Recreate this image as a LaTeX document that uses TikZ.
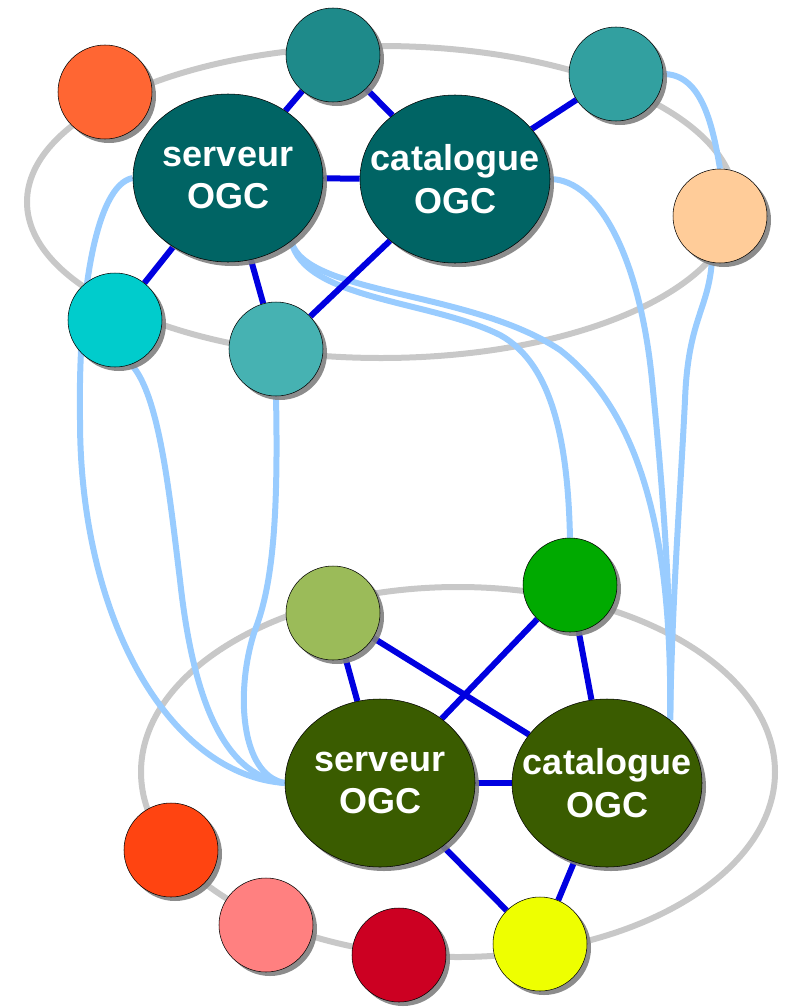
\documentclass[tikz,border=0pt]{standalone}
\usepackage{fontspec}
\setmainfont{Liberation Sans}
\usepackage{tikz}
\usetikzlibrary{shapes.geometric}
\usetikzlibrary{shadows}
\usetikzlibrary{backgrounds}
\definecolor{ogcteal}{HTML}{006464}
\definecolor{ogcolive}{HTML}{3A5C00}
\definecolor{lienbleu}{HTML}{0000E0}
\definecolor{relaisbleu}{HTML}{99CCFF}
\definecolor{anneaugris}{HTML}{C8C8C8}
\tikzset{bulle/.style = {circle, draw=black, thin, minimum size=70.5pt, inner sep=0,
                         drop shadow={shadow xshift=3pt, shadow yshift=-3pt, fill=gray, opacity=.9}}}
\tikzset{ogc/.style = {ellipse, draw=black, thin, minimum width=142.5pt, minimum height=126pt,
                       inner sep=0,
                       drop shadow={shadow xshift=3pt, shadow yshift=-3pt, fill=gray, opacity=.9}}}
\tikzset{ogctexte/.style = {align=center, text=white, inner sep=0,
                            font=\bfseries\fontsize{27}{32}\selectfont}}
\tikzset{lien/.style = {draw=lienbleu, line width=4.5pt}}
\tikzset{relais/.style = {draw=relaisbleu, line width=4.5pt}}
\tikzset{anneau/.style = {draw=anneaugris, line width=4.5pt}}

\begin{document}
\begin{tikzpicture}[x=0.75pt, y=-0.75pt]
          \useasboundingbox (0,0) rectangle (786,1007);
          \node [ogc, fill=ogcteal, label={[ogctexte]center:serveur\\OGC}] (srvA) at (228,178) {};
          \node [ogc, fill=ogcteal, label={[ogctexte]center:catalogue\\OGC}] (catA) at (455,179) {};
          \node [bulle, fill={rgb,255:red,255;green,102;blue,51}] (orangeA) at (105,92) {};
          \node [bulle, fill={rgb,255:red,30;green,138;blue,138}] (tealHaut) at (333,55) {};
          \node [bulle, fill={rgb,255:red,50;green,160;blue,160}] (tealDroit) at (616,74) {};
          \node [bulle, fill={rgb,255:red,255;green,204;blue,153}] (peche) at (720,216) {};
          \node [bulle, fill={rgb,255:red,0;green,204;blue,204}] (cyanA) at (115,320) {};
          \node [bulle, fill={rgb,255:red,70;green,178;blue,178}] (tealBas) at (276,349) {};
          \node [ogc, fill=ogcolive, label={[ogctexte]center:serveur\\OGC}] (srvB) at (380,783) {};
          \node [ogc, fill=ogcolive, label={[ogctexte]center:catalogue\\OGC}] (catB) at (607,783) {};
          \node [bulle, fill={rgb,255:red,155;green,187;blue,89}] (olive) at (333,613) {};
          \node [bulle, fill={rgb,255:red,0;green,170;blue,0}] (vert) at (570,585) {};
          \node [bulle, fill={rgb,255:red,255;green,68;blue,17}] (rouge) at (171,850) {};
          \node [bulle, fill={rgb,255:red,255;green,128;blue,128}] (rose) at (266,925) {};
          \node [bulle, fill={rgb,255:red,204;green,0;blue,34}] (carmin) at (399,955) {};
          \node [bulle, fill={rgb,255:red,238;green,255;blue,0}] (jaune) at (540,944) {};
          \begin{scope}[on background layer]
            \draw [anneau] (381,202) ellipse [x radius=265.5pt, y radius=117pt];
            \draw [anneau] (458,772) ellipse [x radius=237.75pt, y radius=138.75pt];
            \draw [relais] (srvA.west) .. controls (95,185) and (78,300) .. (80,420)
                           .. controls (80,620) and (170,775) .. (srvB.west);
            \draw [relais] (cyanA.-70) .. controls (160,395) and (170,500) .. (180,580)
                           .. controls (192,690) and (220,775) .. (srvB.west);
            \draw [relais] (tealBas.south) .. controls (278,500) and (275,580) .. (255,630)
                           .. controls (235,690) and (240,775) .. (srvB.west);
            \draw [relais] (srvA.-45) .. controls (305,300) and (430,300) .. (500,335)
                           .. controls (555,365) and (568,450) .. (vert.north);
            \draw [relais] (srvA.-45) .. controls (305,295) and (470,290) .. (560,350)
                           .. controls (650,420) and (672,560) .. (catB.45);
            \draw [relais] (catA.east) .. controls (600,180) and (640,260) .. (652,380)
                           .. controls (662,480) and (672,600) .. (catB.45);
            \draw [relais] (tealDroit.east) .. controls (700,74) and (712,120) .. (peche.north);
            \draw [relais] (peche.-100) .. controls (708,310) and (688,320) .. (685,400)
                           .. controls (680,500) and (672,600) .. (catB.45);
            \draw [lien] (srvA) -- (tealHaut);
            \draw [lien] (tealHaut) -- (catA);
            \draw [lien] (srvA) -- (catA);
            \draw [lien] (catA) -- (tealDroit);
            \draw [lien] (srvA) -- (cyanA);
            \draw [lien] (srvA) -- (tealBas);
            \draw [lien] (catA) -- (tealBas);
            \draw [lien] (olive) -- (srvB);
            \draw [lien] (olive) -- (catB);
            \draw [lien] (vert) -- (srvB);
            \draw [lien] (vert) -- (catB);
            \draw [lien] (srvB) -- (catB);
            \draw [lien] (srvB) -- (jaune);
            \draw [lien] (catB) -- (jaune);
          \end{scope}
        \end{tikzpicture}
\end{document}
